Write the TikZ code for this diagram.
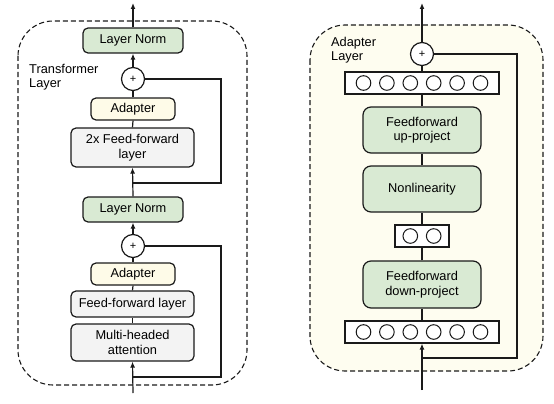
\documentclass[tikz,border=0pt]{standalone}
\usepackage{fontspec}
\setmainfont{Liberation Sans}
\usetikzlibrary{arrows.meta}
\definecolor{lngreen}{HTML}{D9EAD3}
\definecolor{adcream}{HTML}{FEFBE8}
\definecolor{boxgray}{HTML}{F3F3F3}
\definecolor{bgcream}{HTML}{FEFDF0}
\definecolor{edge}{HTML}{1A1A1A}
\tikzset{
  lbl/.style={font=\fontsize{12.8}{14.5}\selectfont, text=black},
  blk/.style={lbl, draw=edge, line width=1.2pt, rounded corners=5pt, inner sep=0pt, align=center},
  normbox/.style={blk, fill=lngreen, minimum width=100pt, minimum height=25pt},
  adbox/.style={blk, fill=adcream, minimum width=84pt, minimum height=22pt},
  graybox/.style={blk, fill=boxgray, minimum width=123pt},
  greenbig/.style={blk, fill=lngreen, rounded corners=8pt, minimum width=118pt},
  vecbox/.style={draw=edge, line width=1.2pt, fill=white, inner sep=0pt, minimum height=22pt},
  unit/.style={circle, draw=edge, line width=1pt, fill=white, minimum size=14.6pt, inner sep=0pt},
  plusnode/.style={circle, draw=edge, line width=1.2pt, fill=white, minimum size=23pt, inner sep=0pt, font=\fontsize{11}{11}\selectfont},
  conn/.style={line width=1.2pt, draw=edge},
  arr/.style={conn, -{Latex[length=6pt,width=5pt]}},
  frame/.style={draw=edge, line width=1.1pt, dash pattern=on 5pt off 3pt, rounded corners=35pt},
}
\begin{document}
\begin{tikzpicture}[x=1pt,y=-1pt]
\useasboundingbox (0,0) rectangle (554,404);
% frames
\draw[frame] (18,21) rectangle (247,385);
\draw[frame, fill=bgcream] (310,25) rectangle (543,371);

% ---------- left: transformer layer ----------
\node[lbl, anchor=north west, align=left, inner sep=0pt] (tlabel) at (29,64) {Transformer\\Layer};
\node[normbox] (ln1) at (133,40.5) {Layer Norm};
\node[plusnode] (p1) at (133,79) {+};
\node[adbox] (ad1) at (133,109) {Adapter};
\node[graybox, minimum height=39pt] (ff2) at (132.5,147.5) {2x Feed-forward\\layer};
\node[normbox] (ln2) at (133,209.5) {Layer Norm};
\node[plusnode] (p2) at (133,246) {+};
\node[adbox] (ad2) at (133,274) {Adapter};
\node[graybox, minimum height=26pt] (ff1) at (132.5,304) {Feed-forward layer};
\node[graybox, minimum height=37pt] (mha) at (132.5,342.5) {Multi-headed\\attention};

\coordinate (ltop) at (133,3);
\coordinate (lin) at (133,393);
\coordinate (br1) at (133,183);
\coordinate (sk1) at (221,183);
\coordinate (br2) at (133,377);
\coordinate (sk2) at (221,377);

\draw[arr] (ln1.north) -- (ltop);
\draw[arr] (p1.north) -- (ln1.south);
\draw[conn] (ad1.north) -- (p1.south);
\draw[conn] (ff2.north) -- (ad1.south);
\draw[arr] (ln2.north) -- (ff2.south);
\draw[arr] (p2.north) -- (ln2.south);
\draw[conn] (ad2.north) -- (p2.south);
\draw[conn] (ff1.north) -- (ad2.south);
\draw[conn] (mha.north) -- (ff1.south);
\draw[arr] (lin) -- (mha.south);
\draw[conn] (p1.east) -| (sk1) -- (br1);
\draw[conn] (p2.east) -| (sk2) -- (br2);

% ---------- right: adapter layer ----------
\node[lbl, anchor=north west, align=left, inner sep=0pt] (alabel) at (331,37) {Adapter\\Layer};
\node[plusnode] (p3) at (422,54) {+};
\node[vecbox, minimum width=154pt] (v1) at (422,83) {};
\foreach \i/\dx in {1/-58.5,2/-35.1,3/-11.7,4/11.7,5/35.1,6/58.5}
  \node[unit] (v1u\i) at (422+\dx,83) {};
\node[greenbig, minimum height=46pt] (up) at (422,130) {Feedforward\\up-project};
\node[greenbig, minimum height=46pt] (nl) at (422,189) {Nonlinearity};
\node[vecbox, minimum width=54pt] (v2) at (422,236) {};
\node[unit] (v2u1) at (410.3,236) {};
\node[unit] (v2u2) at (433.7,236) {};
\node[greenbig, minimum height=47pt] (down) at (422,284.5) {Feedforward\\down-project};
\node[vecbox, minimum width=154pt] (v3) at (422,332) {};
\foreach \i/\dx in {1/-58.5,2/-35.1,3/-11.7,4/11.7,5/35.1,6/58.5}
  \node[unit] (v3u\i) at (422+\dx,332) {};

\coordinate (rtop) at (422,3);
\coordinate (rin) at (422,390);
\coordinate (br3) at (422,358);
\coordinate (sk3) at (517,358);

\draw[arr] (p3.north) -- (rtop);
\draw[conn] (v1.north) -- (p3.south);
\draw[conn] (up.north) -- (v1.south);
\draw[conn] (nl.north) -- (up.south);
\draw[conn] (v2.north) -- (nl.south);
\draw[conn] (down.north) -- (v2.south);
\draw[conn] (v3.north) -- (down.south);
\draw[arr] (rin) -- (v3.south);
\draw[conn] (p3.east) -| (sk3) -- (br3);
\end{tikzpicture}
\end{document}
